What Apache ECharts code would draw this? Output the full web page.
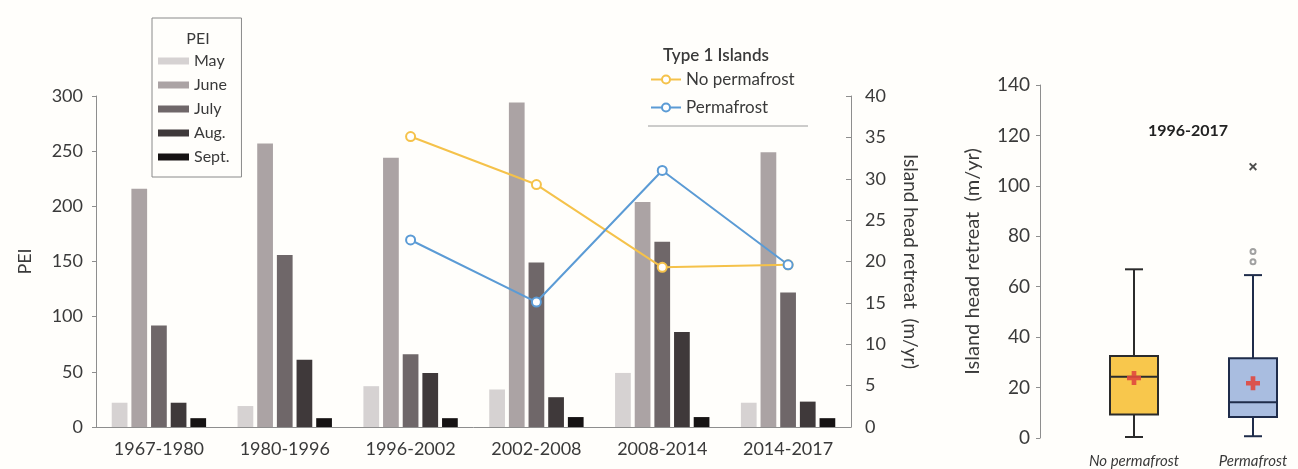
<!DOCTYPE html>
<html>
<head>
<meta charset="utf-8">
<script src="https://cdn.jsdelivr.net/npm/echarts@6/dist/echarts.min.js"></script>
<style>
  html, body { margin: 0; padding: 0; background: #fffefb; }
  #chart { width: 1298px; height: 469px; }
</style>
</head>
<body>
<div id="chart"></div>
<script>
// Periods of the PEI record
const periods = ['1967-1980', '1980-1996', '1996-2002', '2002-2008', '2008-2014', '2014-2017'];

// Monthly PEI per period
const peiMay  = [22, 19, 37, 34, 49, 22];
const peiJune = [216, 257, 244, 294, 204, 249];
const peiJuly = [92, 156, 66, 149, 168, 122];
const peiAug  = [22, 61, 49, 27, 86, 23];
const peiSept = [8, 8, 8, 9, 9, 8];

// Type 1 island head retreat (m/yr)
const retreatNoPermafrost = [null, null, 35.1, 29.3, 19.3, 19.6];
const retreatPermafrost   = [null, null, 22.6, 15.1, 31.0, 19.6];

// Island head retreat 1996-2017: [category index, min, Q1, median, Q3, max]
const boxCategories = ['No permafrost', 'Permafrost'];
const boxStats = [
  [0, 0.4, 9.3, 24.3, 32.5, 66.9],
  [1, 0.7, 8.3, 14.2, 31.6, 64.6]
];
const boxMeans = [[0, 23.8], [1, 21.7]];
const boxOutliers = [[1, 69.9], [1, 74.0]];
const boxExtremes = [[1, 107.6]];

const FONT = 'Lato, "Open Sans", sans-serif';
const TEXT = '#3a3a3a';
const AXIS = '#8e8e8e';

const barColors = ['#d6d2d2', '#aba3a4', '#6f6769', '#3f393a', '#161313'];
const boxFill = ['#f8c74c', '#a9bde0'];
const boxEdge = ['#2b2b2b', '#1f2c4a'];

const chart = echarts.init(document.getElementById('chart'));

function bar(name, data, color) {
  return {
    name, type: 'bar', data, xAxisIndex: 0, yAxisIndex: 0,
    itemStyle: { color },
    barGap: '25%', barCategoryGap: '25%'
  };
}

function line(name, data, color) {
  return {
    name, type: 'line', data, xAxisIndex: 0, yAxisIndex: 1,
    symbol: 'emptyCircle', symbolSize: 9, connectNulls: false,
    lineStyle: { color, width: 2 },
    itemStyle: { color, borderWidth: 2 },
    z: 5
  };
}

const option = {
  backgroundColor: '#fffefb',
  animation: false,
  textStyle: { fontFamily: FONT },
  title: [
    { text: 'PEI', left: 193, top: 26, textAlign: 'center',
      textStyle: { fontFamily: FONT, fontSize: 16, fontWeight: 'normal', color: TEXT } },
    { text: 'Type 1 Islands', left: 711, top: 42, textAlign: 'center',
      textStyle: { fontFamily: FONT, fontSize: 17, fontWeight: 600, color: TEXT } },
    { text: '1996-2017', left: 1183, top: 118, textAlign: 'center',
      textStyle: { fontFamily: FONT, fontSize: 16, fontWeight: 'bold', color: '#222' } }
  ],
  legend: [
    {
      data: ['May', 'June', 'July', 'Aug.', 'Sept.'],
      orient: 'vertical', left: 152, top: 18,
      padding: [35, 12, 12, 6],
      borderColor: '#8a8a8a', borderWidth: 1,
      icon: 'rect', itemWidth: 31, itemHeight: 7, itemGap: 8,
      textStyle: { fontFamily: FONT, fontSize: 16, color: TEXT }
    },
    {
      data: ['No permafrost', 'Permafrost'],
      orient: 'vertical', left: 650, top: 71,
      padding: 0,
      itemWidth: 30, itemHeight: 10, itemGap: 11,
      textStyle: { fontFamily: FONT, fontSize: 17, color: TEXT }
    }
  ],
  graphic: [
    { type: 'line', shape: { x1: 648, y1: 126, x2: 808, y2: 126 },
      style: { stroke: '#9a9a9a', lineWidth: 1 } }
  ],
  grid: [
    { left: 96, right: 447, top: 96, bottom: 42 },
    { left: 1134, right: 45, top: 85, bottom: 28 }
  ],
  xAxis: [
    {
      gridIndex: 0, type: 'category', data: periods,
      axisLine: { lineStyle: { color: AXIS } },
      axisTick: { show: false },
      axisLabel: { fontFamily: FONT, fontSize: 18, color: TEXT, margin: 13 }
    },
    {
      gridIndex: 1, type: 'category', data: boxCategories, boundaryGap: false,
      axisLine: { show: false }, axisTick: { show: false },
      axisLabel: {
        fontFamily: FONT, fontSize: 15, fontStyle: 'italic', color: TEXT, margin: 16,
        interval: 0, showMinLabel: true, showMaxLabel: true, hideOverlap: false
      }
    }
  ],
  yAxis: [
    {
      gridIndex: 0, type: 'value', min: 0, max: 300, interval: 50,
      name: 'PEI', nameLocation: 'middle', nameGap: 62,
      nameTextStyle: { fontFamily: FONT, fontSize: 18, color: TEXT },
      axisLine: { show: true, lineStyle: { color: AXIS } },
      axisTick: { show: true, length: 4, lineStyle: { color: AXIS } },
      axisLabel: { fontFamily: FONT, fontSize: 18, color: TEXT, margin: 13 },
      splitLine: { show: false }
    },
    {
      gridIndex: 0, type: 'value', position: 'right', min: 0, max: 40, interval: 5,
      name: 'Island head retreat  (m/yr)', nameLocation: 'middle', nameGap: 50, nameRotate: -90,
      nameTextStyle: { fontFamily: FONT, fontSize: 19, color: TEXT },
      axisLine: { show: true, lineStyle: { color: AXIS } },
      axisTick: { show: true, inside: true, length: 5, lineStyle: { color: AXIS } },
      axisLabel: { fontFamily: FONT, fontSize: 18, color: TEXT, margin: 14 },
      splitLine: { show: false }
    },
    {
      gridIndex: 1, type: 'value', min: 0, max: 140, interval: 20, offset: 94,
      name: 'Island head retreat  (m/yr)', nameLocation: 'middle', nameGap: 57,
      nameTextStyle: { fontFamily: FONT, fontSize: 20, color: TEXT },
      axisLine: { show: true, lineStyle: { color: AXIS } },
      axisTick: { show: true, length: 4, lineStyle: { color: AXIS } },
      axisLabel: { fontFamily: FONT, fontSize: 19, color: TEXT, margin: 10 },
      splitLine: { show: false }
    }
  ],
  series: [
    bar('May', peiMay, barColors[0]),
    bar('June', peiJune, barColors[1]),
    bar('July', peiJuly, barColors[2]),
    bar('Aug.', peiAug, barColors[3]),
    bar('Sept.', peiSept, barColors[4]),
    line('No permafrost', retreatNoPermafrost, '#f5c24a'),
    line('Permafrost', retreatPermafrost, '#5b9bd5'),
    {
      type: 'custom', xAxisIndex: 1, yAxisIndex: 2,
      data: boxStats,
      encode: { x: 0, y: [1, 2, 3, 4, 5] },
      renderItem(params, api) {
        const i = api.value(0);
        const lo = api.coord([i, api.value(1)]);
        const q1 = api.coord([i, api.value(2)]);
        const md = api.coord([i, api.value(3)]);
        const q3 = api.coord([i, api.value(4)]);
        const hi = api.coord([i, api.value(5)]);
        const cx = lo[0];
        const hw = 24, cap = 9;
        const edge = boxEdge[i];
        const ls = { stroke: edge, lineWidth: 2 };
        return {
          type: 'group',
          children: [
            { type: 'line', shape: { x1: cx, y1: hi[1], x2: cx, y2: q3[1] }, style: ls },
            { type: 'line', shape: { x1: cx, y1: q1[1], x2: cx, y2: lo[1] }, style: ls },
            { type: 'line', shape: { x1: cx - cap, y1: hi[1], x2: cx + cap, y2: hi[1] }, style: ls },
            { type: 'line', shape: { x1: cx - cap, y1: lo[1], x2: cx + cap, y2: lo[1] }, style: ls },
            { type: 'rect', shape: { x: cx - hw, y: q3[1], width: hw * 2, height: q1[1] - q3[1] },
              style: { fill: boxFill[i], stroke: edge, lineWidth: 2 } },
            { type: 'line', shape: { x1: cx - hw, y1: md[1], x2: cx + hw, y2: md[1] }, style: ls }
          ]
        };
      },
      z: 3
    },
    {
      type: 'scatter', xAxisIndex: 1, yAxisIndex: 2, data: boxMeans,
      symbol: 'path://M-1,-3H1V-1H3V1H1V3H-1V1H-3V-1H-1Z', symbolSize: 14,
      itemStyle: { color: '#e0483e', opacity: 0.9 }, z: 6
    },
    {
      type: 'scatter', xAxisIndex: 1, yAxisIndex: 2, data: boxOutliers,
      symbol: 'emptyCircle', symbolSize: 5,
      itemStyle: { color: '#8a8a8a', borderWidth: 1.5 }, z: 6
    },
    {
      type: 'scatter', xAxisIndex: 1, yAxisIndex: 2, data: boxExtremes,
      symbol: 'path://M0,1L1,0L3,2L5,0L6,1L4,3L6,5L5,6L3,4L1,6L0,5L2,3Z', symbolSize: 8,
      itemStyle: { color: '#222' }, z: 6
    }
  ]
};

chart.setOption(option);
</script>
</body>
</html>
